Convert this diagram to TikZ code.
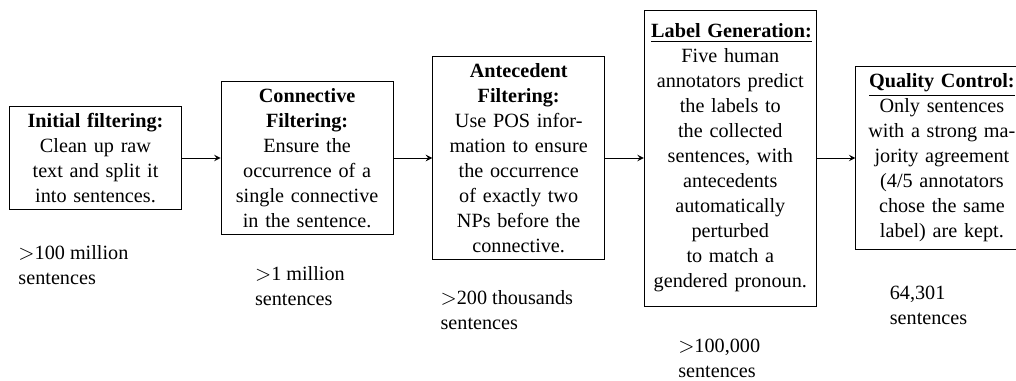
\documentclass[tikz,border=0pt]{standalone}
\usepackage{fontspec}
\setmainfont{Liberation Serif}
\usetikzlibrary{arrows,%
	positioning}
\tikzset{stage/.style={draw, text width=75.9pt, align=center, font=\fontsize{9.7}{12}\selectfont},
	count/.style={inner sep=0pt, align=left, font=\fontsize{9.7}{12}\selectfont}}

\begin{document}
\begin{tikzpicture}[x=0.48pt, y=0.48pt, node distance=18.6pt]
			\useasboundingbox (0,0) rectangle (1016,380);
			\clip (0,0) rectangle (1016,380);
			\node[stage] (A) at (95.5,222) {\textbf{Initial filtering:}\\ Clean up raw\\ text and split it\\ into sentences.};
			\node[stage, right=of A] (B) {\textbf{Connective}\\ \textbf{Filtering:}\\ Ensure the\\ occurrence of a\\ single connective\\ in the sentence.};
			\node[stage, right=of B] (C) {\textbf{Antecedent}\\ \textbf{Filtering:}\\ Use POS infor-\\ mation to ensure\\ the occurrence\\ of exactly two\\ NPs before the\\ connective.};
			\node[stage, right=of C, minimum height=142pt] (D) {\underline{\textbf{Label Generation:}}\\ Five human\\ annotators predict\\ the labels to\\ the collected\\ sentences, with\\ antecedents\\ automatically\\ perturbed\\ to match a\\ gendered pronoun.};
			\node[stage, right=of D] (E) {\underline{\textbf{Quality Control:}}\\ Only sentences\\ with a strong ma-\\ jority agreement\\ (4/5 annotators\\ chose the same\\ label) are kept.};
			\node[count, below right=16.8pt and 4.3pt of A.south west] (NA) {$>$100 million\\ sentences};
			\node[count, below right=14.9pt and 16.3pt of B.south west] (NB) {$>$1 million\\ sentences};
			\node[count, below right=14.4pt and 3.8pt of C.south west] (NC) {$>$200 thousands\\ sentences};
			\node[count, below right=15.6pt and 16.3pt of D.south west] (ND) {$>$100,000\\ sentences};
			\node[count, below right=17.3pt and 16.3pt of E.south west] (NE) {64,301\\ sentences};
			\draw[-stealth] (A) -- (B);
			\draw[-stealth] (B) -- (C);
			\draw[-stealth] (C) -- (D);
			\draw[-stealth] (D) -- (E);
\end{tikzpicture}
\end{document}
